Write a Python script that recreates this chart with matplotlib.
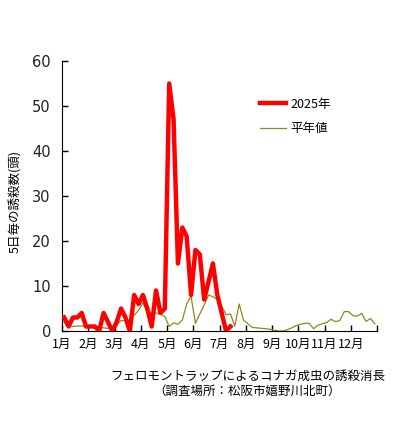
import matplotlib
matplotlib.use('Agg')
from matplotlib import pyplot as plt
import numpy as np

plt.rcParams['font.family'] = ['Noto Sans CJK JP', 'DejaVu Sans']

# 5-day periods (6 per month, 72 per year)
months = ['1月', '2月', '3月', '4月', '5月', '6月', '7月', '8月', '9月', '10月', '11月', '12月']

# 2025 catches (periods 0..38)
y2025 = [3, 1, 3, 3, 4, 1, 1, 1, 0, 4, 2, 0, 2, 5, 3, 0,
         8, 6, 8, 5, 1, 9, 4, 5, 55, 47, 15, 23, 21, 8,
         18, 17, 7, 11, 15, 8, 4, 0, 1]

# normal year values (periods 0..71)
normal = [2.0, 1.0, 1.0, 1.1, 1.1, 1.0, 1.0, 0.9, 0.8, 0.7, 0.6, 0.5,
          1.5, 2.3, 2.3, 2.5, 3.5, 4.6, 6.3, 4.0, 4.0, 4.0, 3.8, 3.2,
          1.0, 1.8, 1.5, 2.4, 6.0, 7.7, 1.7, 3.8, 5.8, 8.0, 7.6, 7.0,
          5.5, 3.6, 3.8, 1.1, 6.0, 2.4, 1.6, 0.8, 0.7, 0.6, 0.5, 0.4,
          0.2, 0.0, 0.0, 0.3, 0.7, 1.2, 1.5, 1.7, 1.7, 0.5, 1.3, 1.6,
          1.9, 2.6, 2.1, 2.3, 4.3, 4.3, 3.4, 3.3, 3.9, 2.1, 2.8, 1.6]

fig = plt.figure(figsize=(3.96, 4.24), dpi=100)
ax = fig.add_axes([62/396, 1-331/424, 315/396, 270/424])

x1 = np.arange(len(y2025)) + 0.5
x2 = np.arange(len(normal)) + 0.5
ax.plot(x2, normal, color='#8a8a1e', lw=0.9, label='平年値', zorder=2)
ax.plot(x1, y2025, color='#ff0000', lw=3.2, label='2025年', zorder=3)

ax.set_xlim(0, 72)
ax.set_ylim(0, 60)
ax.set_yticks(range(0, 61, 10))
ax.set_xticks(range(0, 73, 6))
ax.set_xticklabels(months + [''])
for s in ['top', 'right']:
    ax.spines[s].set_visible(False)
ax.tick_params(direction='in', length=4, width=1)
ax.tick_params(axis='y', labelsize=10.5, pad=8)
ax.tick_params(axis='x', labelsize=9, pad=5)
for t in ax.get_yticklabels():
    t.set_fontfamily('DejaVu Sans')
    t.set_color('#222222')

h, l = ax.get_legend_handles_labels()
ax.legend(h[::-1], l[::-1], loc='upper left', bbox_to_anchor=(0.629, 0.864),
          frameon=False, fontsize=9, handlelength=2.1, handletextpad=0.3,
          labelspacing=0.9, borderpad=0, borderaxespad=0)

fig.text(16/396, 1-202/424, '5日毎の誘殺数(頭)', rotation=90, ha='center',
         va='center', fontsize=9)
fig.text(248/396, 1-376/424, 'フェロモントラップによるコナガ成虫の誘殺消長',
         ha='center', va='center', fontsize=9)
fig.text(247/396, 1-391/424, '（調査場所：松阪市嬉野川北町）',
         ha='center', va='center', fontsize=9)

fig.savefig('out.png', dpi=100)
